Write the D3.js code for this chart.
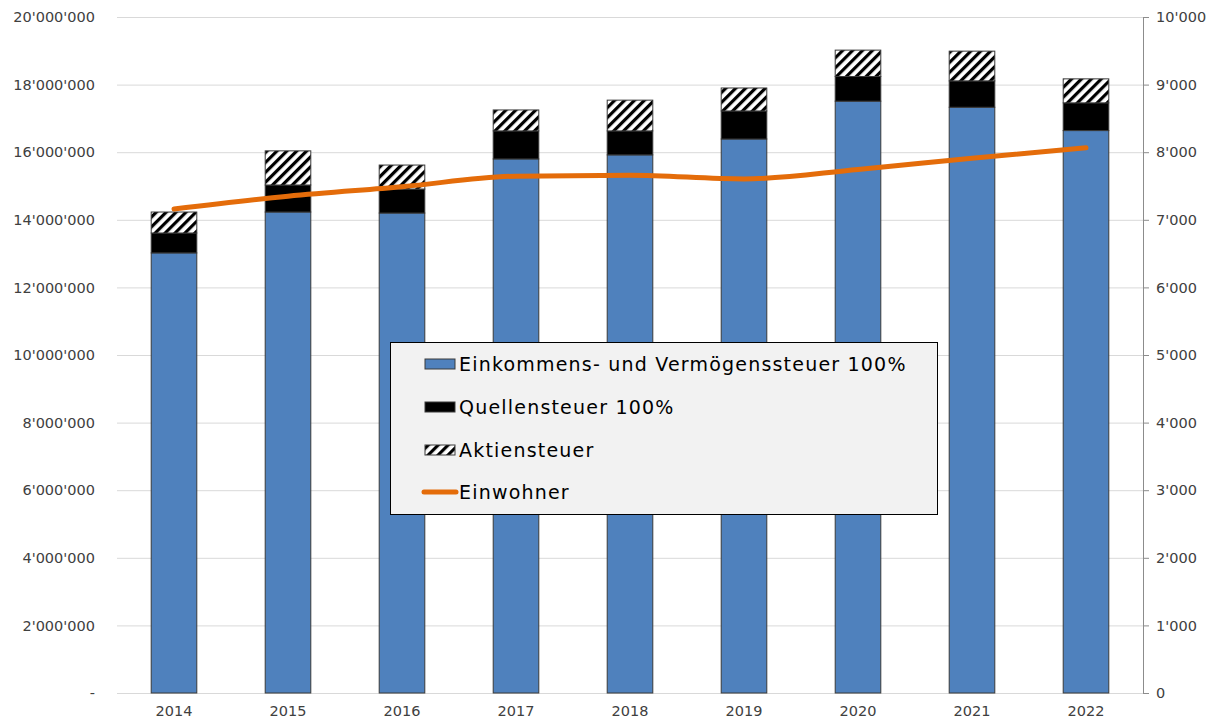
<!DOCTYPE html>
<html><head><meta charset="utf-8">
<script src="https://cdn.jsdelivr.net/npm/d3@7"></script>
<style>
body{margin:0;background:#fff;}
text{font-family:"DejaVu Sans",Verdana,sans-serif;}
</style></head>
<body>
<svg id="c" width="1218" height="722"></svg>
<script>
const years = ["2014","2015","2016","2017","2018","2019","2020","2021","2022"];
const einkommen = [13020000,14230000,14200000,15800000,15920000,16390000,17510000,17330000,16640000];
const quellen   = [590000,800000,710000,830000,710000,830000,730000,780000,820000];
const aktien    = [620000,1010000,710000,620000,910000,680000,780000,880000,710000];
const einwohner = [7160,7350,7490,7645,7660,7605,7745,7910,8065];
const leftTicks = [0,2000000,4000000,6000000,8000000,10000000,12000000,14000000,16000000,18000000,20000000];
const rightTicks = [0,1000,2000,3000,4000,5000,6000,7000,8000,9000,10000];
const seriesNames = ["Einkommens- und Vermögenssteuer 100%","Quellensteuer 100%","Aktiensteuer","Einwohner"];

const svg = d3.select("#c");
const L=117, R=1143, T=17, B=693;
const x = d3.scaleBand().domain(years).range([L,R]).paddingInner(0.6).paddingOuter(0.3);
const y = d3.scaleLinear().domain([0,20000000]).range([B,T]);
const y2 = d3.scaleLinear().domain([0,10000]).range([B,T]);

const defs = svg.append("defs");
const pat = defs.append("pattern").attr("id","hatch").attr("patternUnits","userSpaceOnUse")
  .attr("width",7).attr("height",7).attr("patternTransform","rotate(45)");
pat.append("rect").attr("width",7).attr("height",7).attr("fill","#fff");
pat.append("rect").attr("x",0).attr("width",3.2).attr("height",7).attr("fill","#000");

// grid
svg.append("g").selectAll("line").data(leftTicks).join("line")
  .attr("x1",L).attr("x2",R).attr("y1",d=>y(d)+0.5).attr("y2",d=>y(d)+0.5)
  .attr("stroke","#d9d9d9").attr("stroke-width",1);

// left axis labels
const fmt = d=> d===0 ? "-" : d3.format(",")(d).replace(/,/g,"'");
const la = svg.append("g").attr("transform",`translate(${L},0)`)
  .call(d3.axisLeft(y).tickValues(leftTicks).tickFormat(fmt).tickSize(0).tickPadding(22));
la.select(".domain").remove();
la.selectAll("text").attr("font-size",14.5).attr("fill","#404040").attr("font-family","DejaVu Sans");

// right axis
const ra = svg.append("g").attr("transform",`translate(${R},0)`)
  .call(d3.axisRight(y2).tickValues(rightTicks).tickFormat(d=>d3.format(",")(d).replace(/,/g,"'")).tickSize(6).tickSizeOuter(0).tickPadding(7));
ra.select(".domain").attr("stroke","#8c8c8c");
ra.selectAll(".tick line").attr("stroke","#8c8c8c");
ra.selectAll("text").attr("font-size",14.5).attr("fill","#404040").attr("font-family","DejaVu Sans");

// x axis labels
const xa = svg.append("g").attr("transform",`translate(0,${B})`)
  .call(d3.axisBottom(x).tickSize(0).tickPadding(13));
xa.select(".domain").remove();
xa.selectAll("text").attr("font-size",14.5).attr("fill","#404040").attr("font-family","DejaVu Sans");

// stacked bars
const rows = years.map((yr,i)=>({year:yr,e:einkommen[i],q:quellen[i],a:aktien[i]}));
const stack = d3.stack().keys(["e","q","a"])(rows);
const fills = {e:"#4f81bd",q:"#000",a:"url(#hatch)"};
svg.append("g").selectAll("g").data(stack).join("g")
  .attr("fill",d=>fills[d.key])
  .selectAll("rect").data(d=>d).join("rect")
  .attr("x",d=>x(d.data.year)).attr("width",x.bandwidth())
  .attr("y",d=>y(d[1])).attr("height",d=>y(d[0])-y(d[1]))
  .attr("stroke","#3a3a3a").attr("stroke-width",1);

// line
const line = d3.line().x((d,i)=>x(years[i])+x.bandwidth()/2).y(d=>y2(d)).curve(d3.curveMonotoneX);
svg.append("path").datum(einwohner).attr("d",line).attr("fill","none")
  .attr("stroke","#e46c0a").attr("stroke-width",5).attr("stroke-linecap","round");

// legend
const lg = svg.append("g");
lg.append("rect").attr("x",390.5).attr("y",342.5).attr("width",547).attr("height",172)
  .attr("fill","#f2f2f2").attr("stroke","#000").attr("stroke-width",1);
const rowsY = [364,407,450,492];
seriesNames.forEach((n,i)=>{
  const cy = rowsY[i];
  if(i<3){
    lg.append("rect").attr("x",425).attr("y",cy-5).attr("width",30).attr("height",10)
      .attr("fill",i===0?"#4f81bd":i===1?"#000":"url(#hatch)").attr("stroke","#3a3a3a").attr("stroke-width",1);
  } else {
    lg.append("line").attr("x1",424).attr("x2",456).attr("y1",cy).attr("y2",cy)
      .attr("stroke","#e46c0a").attr("stroke-width",5).attr("stroke-linecap","round");
  }
  lg.append("text").attr("x",459).attr("y",cy).attr("dy","0.36em")
    .attr("font-size",19).attr("letter-spacing","1.2px").attr("fill","#000").text(n);
});
</script>
</body></html>
